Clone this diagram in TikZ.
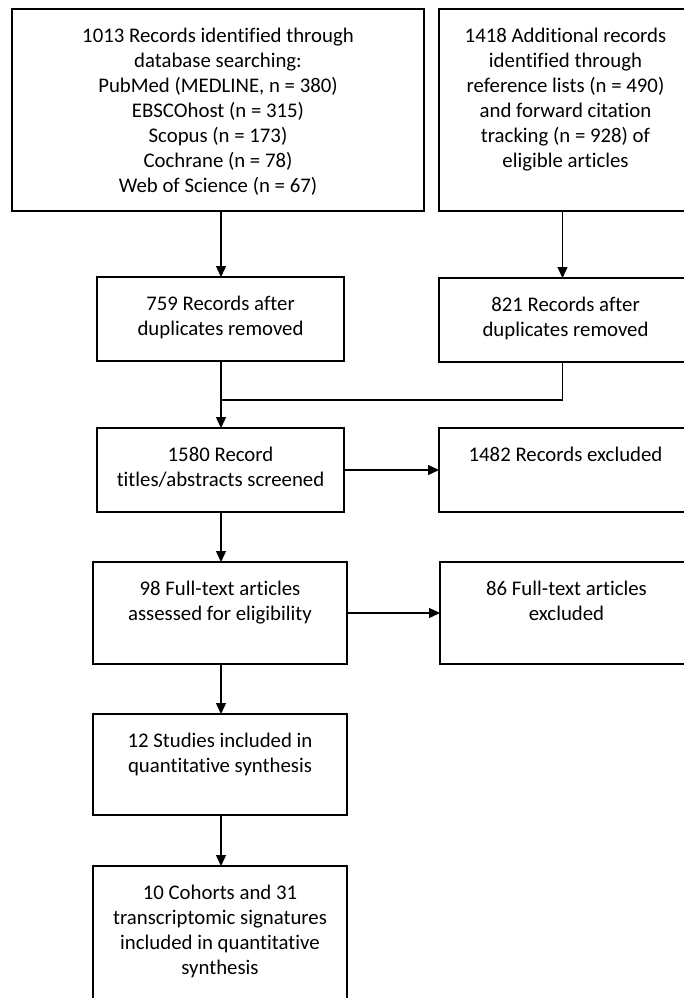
\documentclass[tikz,border=0pt]{standalone}
\usepackage{fontspec}
\setmainfont{Carlito}[Ligatures={NoCommon}]
\usetikzlibrary{arrows.meta,calc}
\newcommand\fstrut{\rule{0pt}{17.5pt}}
\begin{document}
\begin{tikzpicture}[x=1pt,y=-1pt,
  boxnode/.style={draw=black, line width=1.4pt, rectangle, inner sep=0pt, outer sep=0pt, anchor=north west},
  txt/.style={anchor=north, align=center, inner sep=0pt, font=\fontsize{20.8}{25}\selectfont},
  conn/.style={line width=1.4pt, draw=black},
  arr/.style={conn, -{Triangle[length=11pt,width=10pt]}}]
\useasboundingbox (0,0) rectangle (684,998);
\clip (0,0) rectangle (684,998);
% boxes
\node[boxnode, minimum width=412pt, minimum height=202pt] (b1) at (12,9) {};
\node[boxnode, minimum width=253pt, minimum height=202pt] (b2) at (439,9) {};
\node[boxnode, minimum width=247pt, minimum height=84pt] (b3) at (97,277) {};
\node[boxnode, minimum width=253pt, minimum height=84pt] (b4) at (439,278) {};
\node[boxnode, minimum width=247pt, minimum height=84pt] (b5) at (97,428) {};
\node[boxnode, minimum width=253pt, minimum height=84pt] (b6) at (439,428) {};
\node[boxnode, minimum width=254pt, minimum height=102pt] (b7) at (93,562) {};
\node[boxnode, minimum width=253pt, minimum height=102pt] (b8) at (440,562) {};
\node[boxnode, minimum width=254pt, minimum height=101pt] (b9) at (93,714) {};
\node[boxnode, minimum width=254pt, minimum height=150pt] (b10) at (93,866) {};
% texts
\node[txt] (t1) at ($(b1.north)+(0,15.5)$) {\fstrut 1013 Records identified through\\ database searching:\\ PubMed (MEDLINE, n = 380)\\ EBSCOhost (n = 315)\\ Scopus (n = 173)\\ Cochrane (n = 78)\\ Web of Science (n = 67)};
\node[txt] (t2) at ($(b2.north)+(0,15.5)$) {\fstrut 1418 Additional records\\ identified through\\ reference lists (n = 490)\\ and forward citation\\ tracking (n = 928) of\\ eligible articles};
\node[txt] (t3) at ($(b3.north)+(0,15.5)$) {\fstrut 759 Records after\\ duplicates removed};
\node[txt] (t4) at ($(b4.north)+(0,15.5)$) {\fstrut 821 Records after\\ duplicates removed};
\node[txt] (t5) at ($(b5.north)+(0,15.5)$) {\fstrut 1580 Record\\ titles/abstracts screened};
\node[txt] (t6) at ($(b6.north)+(0,15.5)$) {\fstrut 1482 Records excluded};
\node[txt] (t7) at ($(b7.north)+(0,15.5)$) {\fstrut 98 Full-text articles\\ assessed for eligibility};
\node[txt] (t8) at ($(b8.north)+(0,15.5)$) {\fstrut 86 Full-text articles\\ excluded};
\node[txt] (t9) at ($(b9.north)+(0,15.5)$) {\fstrut 12 Studies included in\\ quantitative synthesis};
\node[txt] (t10) at ($(b10.north)+(0,15.5)$) {\fstrut 10 Cohorts and 31\\ transcriptomic signatures\\ included in quantitative\\ synthesis};
% connector columns
\coordinate (lx) at (221,0);
\coordinate (rx) at (562.5,0);
% connectors
\draw[arr] (b1.south -| lx) -- (b3.north -| lx);
\draw[arr] (b2.south -| rx) -- (b4.north -| rx);
\coordinate (j) at ($(b3.south -| lx)+(0,39)$);
\draw[conn] (b4.south -| rx) |- (j);
\draw[arr] (b3.south -| lx) -- (b5.north -| lx);
\draw[arr] (b5.east) -- (b6.west);
\draw[arr] (b5.south -| lx) -- (b7.north -| lx);
\draw[arr] (b7.east) -- (b8.west);
\draw[arr] (b7.south -| lx) -- (b9.north -| lx);
\draw[arr] (b9.south -| lx) -- (b10.north -| lx);
\end{tikzpicture}
\end{document}
